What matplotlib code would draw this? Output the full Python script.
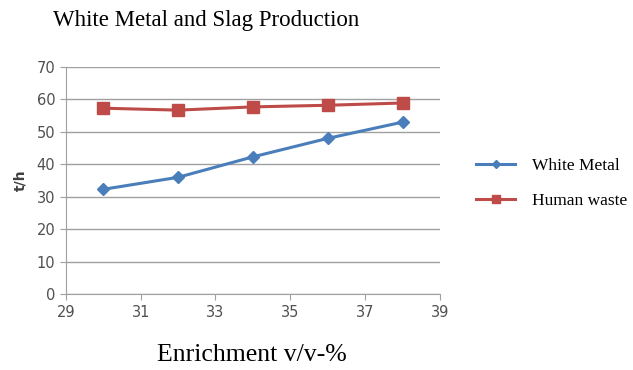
import matplotlib.pyplot as plt

enrichment = [30, 32, 34, 36, 38]
white_metal = [32.3, 36.0, 42.3, 48.0, 53.0]
human_waste = [57.3, 56.7, 57.7, 58.2, 58.9]

fig = plt.figure(figsize=(6.33, 3.70), dpi=100)
ax = fig.add_axes([0.104, 0.205, 0.591, 0.614])

ax.plot(enrichment, white_metal, color="#4a7ebb", lw=2.2, marker="D", ms=6,
        label="White Metal")
ax.plot(enrichment, human_waste, color="#be4b48", lw=2.2, marker="s", ms=8,
        label="Human waste")

ax.set_xlim(29, 39)
ax.set_ylim(0, 70)
ax.set_xticks(range(29, 40, 2))
ax.set_yticks(range(0, 71, 10))
ax.yaxis.grid(True, color="#a0a0a0", lw=1)
ax.set_axisbelow(True)
for s in ["top", "right"]:
    ax.spines[s].set_visible(False)
for s in ["left", "bottom"]:
    ax.spines[s].set_color("#a0a0a0")
ax.tick_params(colors="#a0a0a0", labelcolor="#505050", labelsize=10.5, length=4)

fig.text(0.326, 0.945, "White Metal and Slag Production", ha="center", va="center",
         family="Liberation Serif", fontsize=16.5)
fig.text(0.398, 0.04, "Enrichment v/v-%", ha="center", va="center",
         family="Liberation Serif", fontsize=18.5)
ax.set_ylabel("t/h", fontsize=10, fontweight="bold", color="#404040", labelpad=7)

leg = fig.legend(loc="center left", bbox_to_anchor=(0.728, 0.505), frameon=False,
                 prop={"family": "Liberation Serif", "size": 12.5}, handlelength=2.2,
                 labelspacing=1.1, markerscale=0.75, handletextpad=1.0)

fig.savefig("out.png", dpi=100)
